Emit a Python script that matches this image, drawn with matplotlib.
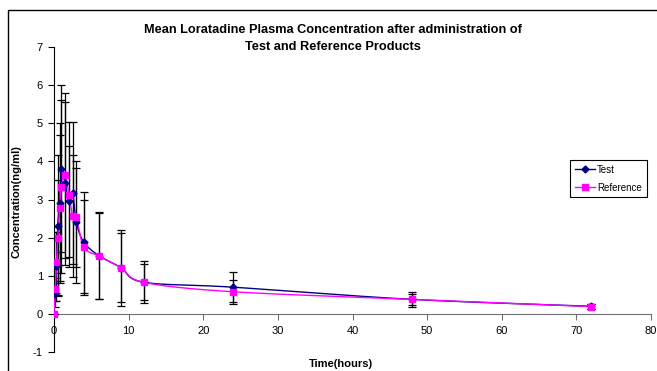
import numpy as np
import matplotlib
matplotlib.use("Agg")
import matplotlib.pyplot as plt
from matplotlib.patches import Rectangle

plt.rcParams['font.family'] = ['Liberation Sans', 'DejaVu Sans']
plt.rcParams['axes.unicode_minus'] = False

times = [0, 0.17, 0.33, 0.5, 0.75, 1, 1.5, 2, 2.5, 3, 4, 6, 9, 12, 24, 48, 72]
test = [0, 0.52, 1.25, 2.31, 2.9, 3.81, 3.42, 2.95, 3.17, 2.4, 1.88, 1.53, 1.21, 0.83, 0.70, 0.38, 0.20]
test_sd = [0, 0.35, 0.9, 1.85, 2.1, 2.19, 2.14, 1.45, 1.87, 1.6, 1.32, 1.15, 1.0, 0.55, 0.39, 0.2, 0.07]
reference = [0, 0.65, 1.35, 2.0, 2.77, 3.34, 3.63, 3.12, 2.56, 2.53, 1.75, 1.52, 1.21, 0.83, 0.58, 0.38, 0.19]
reference_sd = [0, 0.3, 0.8, 1.5, 1.92, 2.28, 2.17, 1.9, 1.6, 1.3, 1.25, 1.13, 0.91, 0.47, 0.32, 0.15, 0.06]

title_lines = ["Mean Loratadine Plasma Concentration after administration of",
               "Test and Reference Products"]
xlabel = "Time(hours)"
ylabel = "Concentration(ng/ml)"


def smooth(x, y, n=30):
    """Excel-like smoothing (Catmull-Rom / Bezier with 1/6 tension)."""
    x = np.asarray(x, float)
    y = np.asarray(y, float)
    P = np.column_stack([x, y])
    out = []
    for i in range(len(P) - 1):
        p0 = P[i - 1] if i > 0 else P[i]
        p1 = P[i]
        p2 = P[i + 1]
        p3 = P[i + 2] if i + 2 < len(P) else P[i + 1]
        c1 = p1 + (p2 - p0) / 6.0
        c2 = p2 - (p3 - p1) / 6.0
        t = np.linspace(0, 1, n)[:, None]
        seg = ((1 - t) ** 3) * p1 + 3 * ((1 - t) ** 2) * t * c1 + 3 * (1 - t) * t ** 2 * c2 + t ** 3 * p2
        out.append(seg if i == 0 else seg[1:])
    S = np.vstack(out)
    return S[:, 0], S[:, 1]


fig = plt.figure(figsize=(6.57, 3.71), dpi=100)
fig.patches.append(Rectangle((8 / 657, -0.1), 1.2, 1 - 10 / 371 + 0.1, transform=fig.transFigure,
                             fill=False, edgecolor='black', linewidth=1.0))

ax = fig.add_axes([54 / 657, 1 - 352 / 371, (651 - 54) / 657, (352 - 47) / 371])

ax.errorbar(times, test, yerr=test_sd, fmt='none', ecolor='black', elinewidth=0.9,
            capsize=3, capthick=0.9, zorder=3)
ax.errorbar(times, reference, yerr=reference_sd, fmt='none', ecolor='black', elinewidth=0.9,
            capsize=3, capthick=0.9, zorder=3)

sx, sy = smooth(times, test)
ax.plot(sx, sy, color='#000080', linewidth=1.0, zorder=4)
sx, sy = smooth(times, reference)
ax.plot(sx, sy, color='#FF00FF', linewidth=1.0, zorder=4)
ax.plot(times, test, linestyle='none', marker='D', markersize=3.5, color='#000080', zorder=5)
ax.plot(times, reference, linestyle='none', marker='s', markersize=4, color='#FF00FF', zorder=5)

# legend proxies
ax.plot([], [], color='#000080', marker='D', markersize=3.5, linewidth=1.0, label='Test')
ax.plot([], [], color='#FF00FF', marker='s', markersize=4, linewidth=1.0, label='Reference')
handles, labels = ax.get_legend_handles_labels()
leg = ax.legend(handles, labels, loc='upper left', bbox_to_anchor=((570 - 54) / 597, (352 - 160) / 305),
                fontsize=7, frameon=True, fancybox=False, edgecolor='black', framealpha=1,
                borderpad=0.5, handlelength=2.1, handletextpad=0.2, labelspacing=0.8, borderaxespad=0)
leg.get_frame().set_linewidth(0.8)

ax.set_xlim(0, 80)
ax.set_ylim(-1, 7)
ax.set_xticks(np.arange(0, 81, 10))
ax.set_yticks(np.arange(-1, 8, 1))
ax.spines['top'].set_visible(False)
ax.spines['right'].set_visible(False)
ax.spines['bottom'].set_position(('data', 0))
ax.spines['bottom'].set_color('#707070')
ax.spines['left'].set_color('black')
ax.tick_params(axis='x', direction='out', length=4, labelsize=8, color='#707070', pad=5)
ax.tick_params(axis='y', direction='out', length=4, labelsize=8, pad=4)

fig.text(333 / 657, 1 - 30 / 371, title_lines[0], ha='center', va='center', fontsize=9.2, fontweight='bold')
fig.text(333 / 657, 1 - 47 / 371, title_lines[1], ha='center', va='center', fontsize=9.2, fontweight='bold')
fig.text(341 / 657, 1 - 364 / 371, xlabel, ha='center', va='center', fontsize=8, fontweight='bold')
fig.text(17 / 657, 1 - 202 / 371, ylabel, ha='center', va='center', fontsize=8, fontweight='bold',
         rotation=90)

fig.savefig('out.png', dpi=100)
